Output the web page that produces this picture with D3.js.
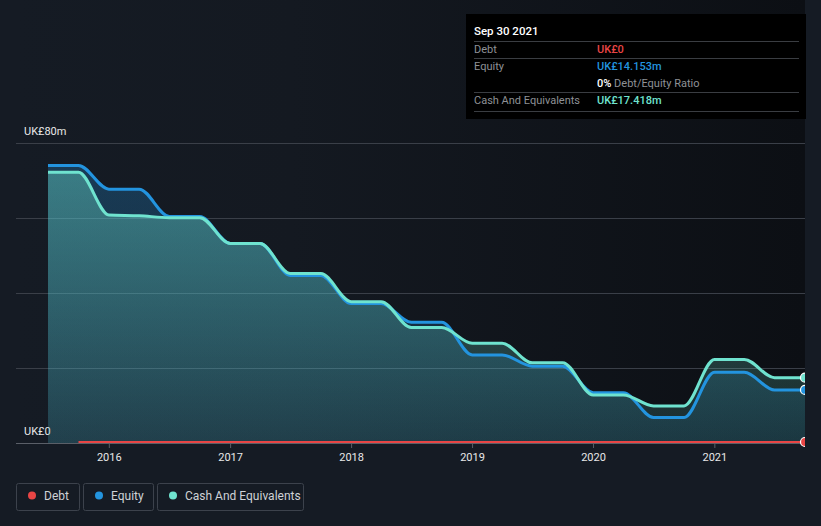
<!DOCTYPE html>
<html>
<head>
<meta charset="utf-8">
<script src="https://cdn.jsdelivr.net/npm/d3@7"></script>
<style>
  html, body { margin: 0; padding: 0; background: #151b24; }
  svg { display: block; font-family: Roboto, "Noto Sans", sans-serif; }
</style>
</head>
<body>
<svg id="chart" width="821" height="526"></svg>
<script>
// ---- data (UK£ millions) ----
const dates = ["2015-06-30","2015-09-30","2015-12-31","2016-03-31","2016-06-30","2016-09-30",
  "2016-12-31","2017-03-31","2017-06-30","2017-09-30","2017-12-31","2018-03-31",
  "2018-06-30","2018-09-30","2018-12-31","2019-03-31","2019-06-30","2019-09-30",
  "2019-12-31","2020-03-31","2020-06-30","2020-09-30","2020-12-31","2021-03-31",
  "2021-06-30","2021-09-30"];
const equity = [74.0,74.0,67.7,67.7,60.4,60.4,53.2,53.2,44.7,44.7,37.2,37.2,
  32.2,32.2,23.5,23.5,20.5,20.5,13.4,13.4,6.8,6.8,18.9,18.9,14.153,14.153];
const cash = [72.2,72.2,60.8,60.6,60.1,60.1,53.2,53.2,45.2,45.2,37.7,37.7,
  30.8,30.8,26.6,26.6,21.4,21.4,12.8,12.8,9.9,9.9,22.3,22.3,17.418,17.418];
const debt = [null,0,0,0,0,0,0,0,0,0,0,0,0,0,0,0,0,0,0,0,0,0,0,0,0,0];
const yTicks = [0,20,40,60,80];
const yTickLabels = ["UK£0","","","","UK£80m"];
const xTicks = ["2016","2017","2018","2019","2020","2021"];
const legendItems = ["Debt","Equity","Cash And Equivalents"];
const tooltipTitle = "Sep 30 2021";
const tooltipRows = [
  {label:"Debt", value:"UK£0", key:"debt"},
  {label:"Equity", value:"UK£14.153m", key:"equity"},
  {label:"", value:"0%", extra:" Debt/Equity Ratio", key:"ratio"},
  {label:"Cash And Equivalents", value:"UK£17.418m", key:"cash"}
];

const colors = {debt:"#e84545", equity:"#2394df", cash:"#6fe3cf"};

const parse = d3.timeParse("%Y-%m-%d");
const rows = dates.map((d,i)=>({date:parse(d), equity:equity[i], cash:cash[i], debt:debt[i]}));

const svg = d3.select("#chart");
const pLeft = 16, pRight = 805, pTop = 143, pBottom = 443;

const x = d3.scaleTime().domain(d3.extent(rows, d=>d.date)).range([48, pRight]);
const y = d3.scaleLinear().domain([0,80]).range([pBottom, pTop]);

const defs = svg.append("defs");
const bgGrad = defs.append("linearGradient").attr("id","bgGrad")
  .attr("x1","0").attr("x2","1").attr("y1","0").attr("y2","0");
bgGrad.append("stop").attr("offset","0").attr("stop-color","#151b24");
bgGrad.append("stop").attr("offset","0.35").attr("stop-color","#141921");
bgGrad.append("stop").attr("offset","1").attr("stop-color","#0c0f14");

function vGrad(id, color, o1, o2){
  const g = defs.append("linearGradient").attr("id",id)
    .attr("gradientUnits","userSpaceOnUse")
    .attr("x1",0).attr("x2",0).attr("y1",pTop).attr("y2",pBottom);
  g.append("stop").attr("offset","0").attr("stop-color",color).attr("stop-opacity",o1);
  g.append("stop").attr("offset","1").attr("stop-color",color).attr("stop-opacity",o2);
}
vGrad("eqGrad", colors.equity, 0.28, 0.12);
vGrad("cashGrad", colors.cash, 0.42, 0.12);

defs.append("clipPath").attr("id","plotClip")
  .append("rect").attr("x",pLeft).attr("y",0).attr("width",pRight-pLeft).attr("height",pBottom+10);

// plot background
svg.append("rect").attr("x",pLeft).attr("y",0).attr("width",pRight-pLeft).attr("height",pBottom)
  .attr("fill","url(#bgGrad)");

// gridlines
svg.append("g").selectAll("line").data(yTicks).join("line")
  .attr("x1",pLeft).attr("x2",pRight)
  .attr("y1",d=>y(d)+0.5).attr("y2",d=>y(d)+0.5)
  .attr("stroke",d=>d===0?"#5a5f68":"#3a3f48").attr("stroke-width",1);

// y labels
svg.append("g").selectAll("text").data(yTicks.filter((d,i)=>yTickLabels[i]!=="")).join("text")
  .attr("x",24).attr("y",d=>y(d)-8)
  .attr("fill","#e8e8e8").attr("font-size",11)
  .text(d=>yTickLabels[yTicks.indexOf(d)]);

const plot = svg.append("g").attr("clip-path","url(#plotClip)");
const curve = d3.curveMonotoneX;

plot.append("path").datum(rows)
  .attr("fill","url(#eqGrad)")
  .attr("d", d3.area().curve(curve).x(d=>x(d.date)).y0(y(0)).y1(d=>y(d.equity)));
plot.append("path").datum(rows)
  .attr("fill","url(#cashGrad)")
  .attr("d", d3.area().curve(curve).x(d=>x(d.date)).y0(y(0)).y1(d=>y(d.cash)));

function line(key){
  return d3.line().curve(curve).defined(d=>d[key]!==null).x(d=>x(d.date)).y(d=>y(d[key]));
}
plot.append("path").datum(rows).attr("fill","none").attr("stroke",colors.equity)
  .attr("stroke-width",3).attr("d", line("equity"));
plot.append("path").datum(rows).attr("fill","none").attr("stroke",colors.cash)
  .attr("stroke-width",3).attr("d", line("cash"));
plot.append("path").datum(rows).attr("fill","none").attr("stroke",colors.debt)
  .attr("stroke-width",2).attr("transform","translate(0,-1)").attr("d", line("debt"));

// end dots
const last = rows[rows.length-1];
[["cash",0],["equity",0],["debt",-1]].forEach(([k,dy])=>{
  plot.append("circle").attr("cx",x(last.date)).attr("cy",y(last[k])+dy).attr("r",4.5)
    .attr("fill",colors[k]).attr("stroke","#ffffff").attr("stroke-width",1.2);
});

// x axis ticks
const xt = svg.append("g");
xTicks.forEach(t=>{
  const px = x(parse(t+"-01-01"));
  xt.append("line").attr("x1",px).attr("x2",px).attr("y1",pBottom+1).attr("y2",pBottom+5)
    .attr("stroke","#5a5f68");
  xt.append("text").attr("x",px).attr("y",461).attr("text-anchor","middle")
    .attr("fill","#e8e8e8").attr("font-size",11).text(t);
});

// legend
const legendBoxes = [{x:16,w:63},{x:83,w:70},{x:157,w:146}];
const keys = ["debt","equity","cash"];
legendItems.forEach((name,i)=>{
  const b = legendBoxes[i];
  const g = svg.append("g");
  g.append("rect").attr("x",b.x+0.5).attr("y",483.5).attr("width",b.w).attr("height",27)
    .attr("rx",2).attr("fill","none").attr("stroke","#3c424c");
  g.append("circle").attr("cx",b.x+16).attr("cy",495.5).attr("r",4).attr("fill",colors[keys[i]]);
  g.append("text").attr("x",b.x+28).attr("y",499.5).attr("fill","#cfd2d6").attr("font-size",12).text(name);
});

// tooltip
const tt = svg.append("g");
tt.append("rect").attr("x",466).attr("y",14).attr("width",340).attr("height",105).attr("fill","#000");
tt.append("text").attr("x",474).attr("y",35).attr("fill","#fff").attr("font-size",11.5)
  .attr("font-weight",500).text(tooltipTitle);
[41,58,92,111].forEach(yy=>{
  tt.append("line").attr("x1",474).attr("x2",799).attr("y1",yy+0.5).attr("y2",yy+0.5)
    .attr("stroke","#3a3d42");
});
const rowY = [53,70,87,104];
tooltipRows.forEach((r,i)=>{
  if (r.label) tt.append("text").attr("x",474).attr("y",rowY[i]).attr("fill","#8e9196")
    .attr("font-size",11).text(r.label);
  const t = tt.append("text").attr("x",597).attr("y",rowY[i]).attr("font-size",11).attr("font-weight",500);
  if (r.key==="ratio"){
    t.append("tspan").attr("fill","#fff").text(r.value);
    t.append("tspan").attr("fill","#8e9196").attr("font-weight",400).text(r.extra);
  } else {
    t.attr("fill", colors[r.key]).text(r.value);
  }
});
</script>
</body>
</html>
